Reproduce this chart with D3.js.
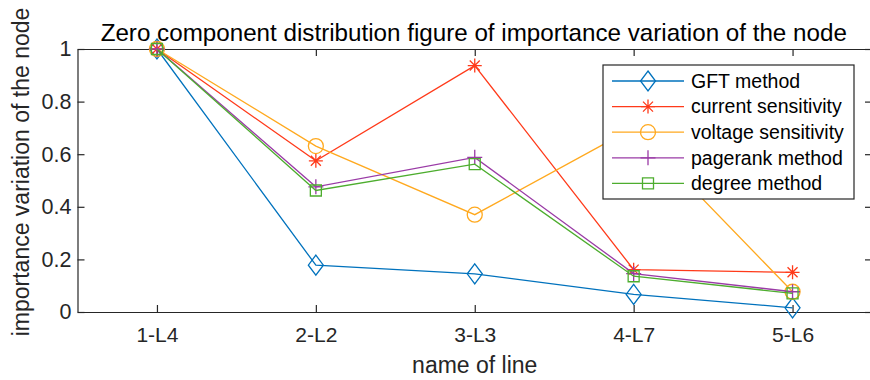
<!DOCTYPE html>
<html>
<head>
<meta charset="utf-8">
<script src="https://cdn.jsdelivr.net/npm/d3@7"></script>
<style>
  body { margin: 0; background: #fff; }
  svg { display: block; font-family: "Liberation Sans", Arial, sans-serif; }
</style>
</head>
<body>
<div id="chart"></div>
<script>
// data
const categories = ["1-L4", "2-L2", "3-L3", "4-L7", "5-L6"];
const yTicks = [0, 0.2, 0.4, 0.6, 0.8, 1];

const gft      = [1, 0.178, 0.145, 0.067, 0.016];
const current  = [1, 0.575, 0.937, 0.161, 0.151];
const voltage  = [1, 0.631, 0.370, 0.700, 0.077];
const pagerank = [1, 0.476, 0.588, 0.146, 0.077];
const degree   = [1, 0.462, 0.562, 0.136, 0.071];

const seriesNames = ["GFT method", "current sensitivity", "voltage sensitivity", "pagerank method", "degree method"];
const seriesColors = ["#0072BD", "#FF3A1A", "#FFA91F", "#9A3BA6", "#4DAD2E"];
const seriesMarkers = ["diamond", "asterisk", "circle", "plus", "square"];

const series = [gft, current, voltage, pagerank, degree].map((values, i) => ({
  name: seriesNames[i], color: seriesColors[i], marker: seriesMarkers[i], values
}));

const width = 870, height = 380;
const plotLeft = 77.5, plotRight = 872, plotTop = 49, plotBottom = 312;
const ink = "#262626";

const svg = d3.select("#chart").append("svg")
  .attr("width", width)
  .attr("height", height);

const x = d3.scalePoint().domain(categories).range([plotLeft, plotRight]).padding(0.5);
const y = d3.scaleLinear().domain([0, 1]).range([plotBottom, plotTop]);

// marker shapes as path strings
function markerPath(type) {
  switch (type) {
    case "diamond": return "M0,-10L7.5,0L0,10L-7.5,0Z";
    case "circle": return "M7.5,0A7.5,7.5 0 1,1 -7.5,0A7.5,7.5 0 1,1 7.5,0Z";
    case "square": return "M-5.5,-5.5H5.5V5.5H-5.5Z";
    case "plus": return "M0,-7.5V7.5M-7.5,0H7.5";
    case "asterisk": return "M0,-7V7M-7,0H7M-5,-5L5,5M-5,5L5,-5";
  }
}

// axes, MATLAB style box with inward ticks
const fmt = d => d3.format("~g")(d);

svg.append("g")
  .attr("transform", `translate(0,${plotBottom})`)
  .call(d3.axisBottom(x).tickSizeInner(-7).tickSizeOuter(0).tickPadding(15))
  .call(g => g.selectAll("text").attr("font-size", 21));

svg.append("g")
  .attr("transform", `translate(0,${plotTop})`)
  .call(d3.axisTop(x).tickSizeInner(-7).tickSizeOuter(0).tickFormat(""));

svg.append("g")
  .attr("transform", `translate(${plotLeft},0)`)
  .call(d3.axisLeft(y).tickValues(yTicks).tickFormat(fmt).tickSizeInner(-7).tickSizeOuter(0).tickPadding(6))
  .call(g => g.selectAll("text").attr("font-size", 21.5));

svg.append("g")
  .attr("transform", `translate(${plotRight},0)`)
  .call(d3.axisRight(y).tickValues(yTicks).tickSizeInner(-7).tickSizeOuter(0).tickFormat(""));

svg.selectAll(".domain, .tick line").attr("stroke", ink).attr("stroke-width", 1.2);
svg.selectAll(".tick text").attr("fill", ink).attr("font-family", "Liberation Sans, Arial, sans-serif");

// lines and markers
const line = d3.line()
  .x((d, i) => x(categories[i]))
  .y(d => y(d));

const groups = svg.selectAll("g.series")
  .data(series)
  .enter()
    .append("g")
    .attr("class", "series");

groups.append("path")
  .attr("d", d => line(d.values))
  .attr("fill", "none")
  .attr("stroke", d => d.color)
  .attr("stroke-width", 1.3);

groups.each(function(s) {
  d3.select(this).selectAll("path.mark")
    .data(s.values)
    .enter()
      .append("path")
      .attr("class", "mark")
      .attr("transform", (d, i) => `translate(${x(categories[i])},${y(d)})`)
      .attr("d", markerPath(s.marker))
      .attr("fill", "none")
      .attr("stroke", s.color)
      .attr("stroke-width", 1.3);
});

// title and labels
svg.append("text")
  .attr("x", (plotLeft + plotRight) / 2 - 1)
  .attr("y", 40.5)
  .attr("text-anchor", "middle")
  .attr("font-size", 24.2)
  .attr("fill", "#000")
  .text("Zero component distribution figure of importance variation of the node");

svg.append("text")
  .attr("x", (plotLeft + plotRight) / 2)
  .attr("y", 373)
  .attr("text-anchor", "middle")
  .attr("font-size", 23)
  .attr("fill", ink)
  .text("name of line");

svg.append("text")
  .attr("transform", "translate(29,172) rotate(-90)")
  .attr("text-anchor", "middle")
  .attr("font-size", 23)
  .attr("fill", ink)
  .text("importance variation of the node");

// legend
const legend = svg.append("g");
legend.append("rect")
  .attr("x", 603).attr("y", 65)
  .attr("width", 251).attr("height", 134)
  .attr("fill", "#fff")
  .attr("stroke", ink)
  .attr("stroke-width", 1.2);

const items = legend.selectAll("g.item")
  .data(series)
  .enter()
    .append("g")
    .attr("class", "item")
    .attr("transform", (d, i) => `translate(0,${81 + i * 25.6})`);

items.append("line")
  .attr("x1", 612).attr("x2", 684)
  .attr("stroke", d => d.color)
  .attr("stroke-width", 1.3);

items.append("path")
  .attr("transform", "translate(648,0)")
  .attr("d", d => markerPath(d.marker))
  .attr("fill", "none")
  .attr("stroke", d => d.color)
  .attr("stroke-width", 1.3);

items.append("text")
  .attr("x", 691)
  .attr("dy", "0.35em")
  .attr("font-size", 19.5)
  .attr("fill", "#000")
  .text(d => d.name);
</script>
</body>
</html>
